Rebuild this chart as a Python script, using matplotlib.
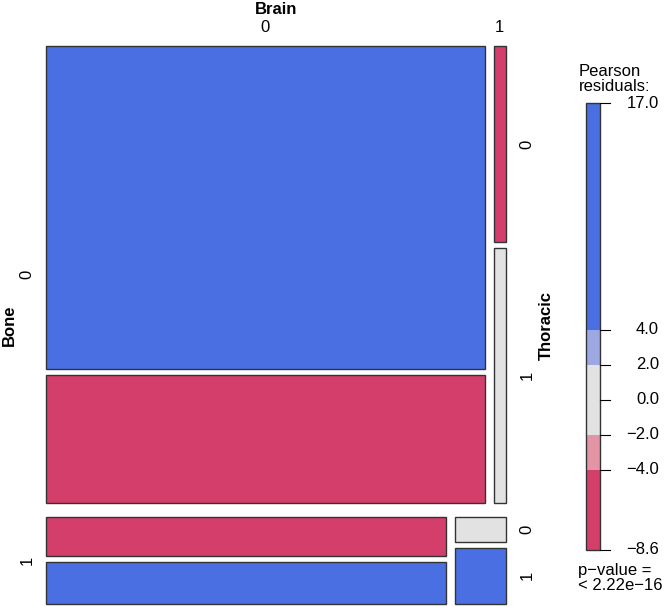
import matplotlib
matplotlib.use("Agg")
import matplotlib.pyplot as plt
from matplotlib.patches import Rectangle

plt.rcParams['font.family'] = ['Liberation Sans', 'DejaVu Sans']

# counts: bone -> brain -> thoracic
bone_levels = ['0', '1']
brain_levels = ['0', '1']
thoracic_levels = ['0', '1']
counts = [[[1170, 464], [20, 26]],
          [[136, 148], [11, 25]]]
# shading of each cell (Pearson residual class)
residuals = [[[17.0, -8.6], [-5.0, 0.5]],
             [[-5.0, 6.0], [1.0, 8.0]]]

legend_breaks = [-8.6, -4.0, -2.0, 2.0, 4.0, 17.0]
legend_ticks = [17.0, 4.0, 2.0, 0.0, -2.0, -4.0, -8.6]
legend_colors = ['#D33F6A', '#E495A5', '#E2E2E2', '#9DA8E2', '#4A6FE3']
p_text = 'p\u2212value =\n< 2.22e\u221216'

def shade(r):
    for lo, hi, c in zip(legend_breaks[:-1], legend_breaks[1:], legend_colors):
        if lo <= r <= hi:
            return c
    return legend_colors[-1]

def fmt(v):
    return f'{v:.1f}'.replace('-', '\u2212')

fig = plt.figure(figsize=(6.64, 6.07), dpi=100)
ax = fig.add_axes([0, 0, 1, 1])
ax.set_xlim(0, 664)
ax.set_ylim(607, 0)
ax.axis('off')

# mosaic region (pixels)
x0, x1, y0, y1 = 46, 506, 46, 604
gap_bone, gap_brain, gap_thor = 14, 9, 6
edge = '#333333'
fs = 12

total = sum(sum(sum(c) for c in b) for b in counts)
avail_h = (y1 - y0) - gap_bone
avail_w = (x1 - x0) - gap_brain

y = y0
for i, bone in enumerate(counts):
    nb = sum(sum(c) for c in bone)
    h = avail_h * nb / total
    x = x0
    for j, cell in enumerate(bone):
        nc = sum(cell)
        w = avail_w * nc / nb
        yy = y
        for k, n in enumerate(cell):
            hh = (h - gap_thor) * n / nc
            ax.add_patch(Rectangle((x, yy), w, hh, facecolor=shade(residuals[i][j][k]),
                                   edgecolor=edge, lw=1))
            if i == 0 and k == 0:
                ax.text(x + w / 2, 28, brain_levels[j], ha='center', va='center', fontsize=fs)
            if j == len(bone) - 1:
                ax.text(527, yy + hh / 2, thoracic_levels[k], ha='center', va='center',
                        rotation=90, fontsize=fs)
            yy += hh + gap_thor
        x += w + gap_brain
    ax.text(27, y + h / 2, bone_levels[i], ha='center', va='center', rotation=90, fontsize=fs)
    y += h + gap_bone

ax.text((x0 + x1) / 2, 9, 'Brain', ha='center', va='center', fontsize=fs, fontweight='bold')
ax.text(9, (y0 + y1) / 2, 'Bone', ha='center', va='center', rotation=90, fontsize=fs,
        fontweight='bold')
ax.text(546, (y0 + y1) / 2, 'Thoracic', ha='center', va='center', rotation=90, fontsize=fs,
        fontweight='bold')

# legend
lx0, lx1, ly_top, ly_bot = 586, 600, 103, 550
vmin, vmax = legend_breaks[0], legend_breaks[-1]
def ly(v):
    return ly_top + (vmax - v) * (ly_bot - ly_top) / (vmax - vmin)

for lo, hi, c in zip(legend_breaks[:-1], legend_breaks[1:], legend_colors):
    ax.add_patch(Rectangle((lx0, ly(hi)), lx1 - lx0, ly(lo) - ly(hi), facecolor=c,
                           edgecolor='none'))
ax.add_patch(Rectangle((lx0, ly_top), lx1 - lx0, ly_bot - ly_top, facecolor='none',
                       edgecolor=edge, lw=1))
for t in legend_ticks:
    ax.plot([lx1, lx1 + 10], [ly(t), ly(t)], color='black', lw=0.8)
    ax.text(659, ly(t), fmt(t), ha='right', va='center', fontsize=fs)

ax.text(579, 79, 'Pearson\nresiduals:', ha='left', va='center', fontsize=fs, linespacing=1.0)
ax.text(578, 578, p_text, ha='left', va='center', fontsize=fs, linespacing=1.0)

fig.savefig('out.png', dpi=100)
